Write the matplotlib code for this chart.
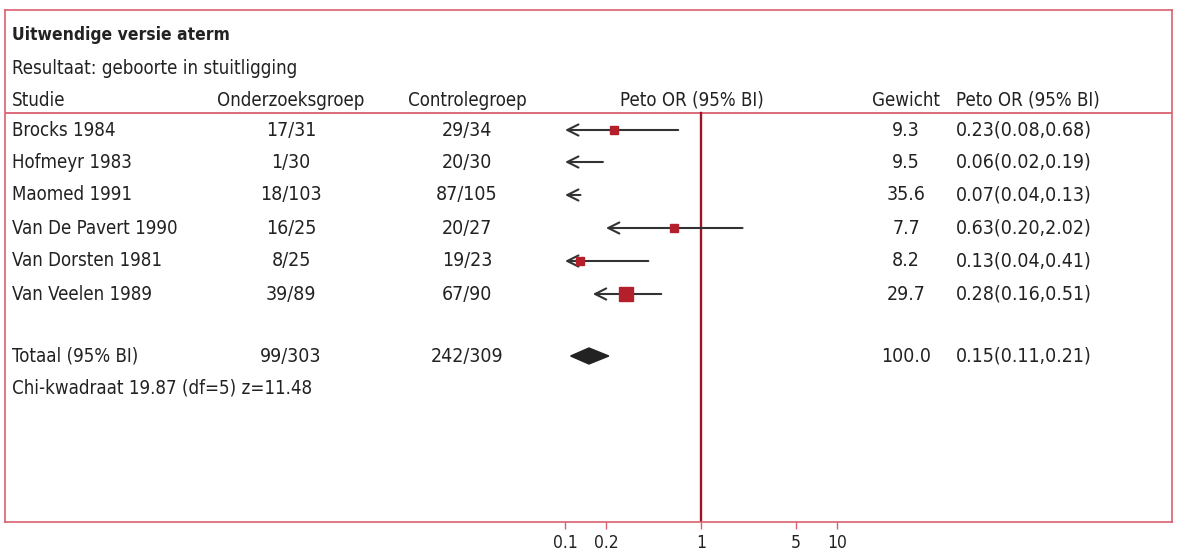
import numpy as np
import matplotlib
matplotlib.use("Agg")
import matplotlib.pyplot as plt
from matplotlib.transforms import blended_transform_factory

plt.rcParams['font.family'] = ['DejaVu Sans']
plt.rcParams['font.stretch'] = 'condensed'

# ---- data ----
studies = ["Brocks 1984", "Hofmeyr 1983", "Maomed 1991", "Van De Pavert 1990",
           "Van Dorsten 1981", "Van Veelen 1989"]
treat = ["17/31", "1/30", "18/103", "16/25", "8/25", "39/89"]
control = ["29/34", "20/30", "87/105", "20/27", "19/23", "67/90"]
odds = [0.23, 0.06, 0.07, 0.63, 0.13, 0.28]
ci_low = [0.08, 0.02, 0.04, 0.20, 0.04, 0.16]
ci_high = [0.68, 0.19, 0.13, 2.02, 0.41, 0.51]
weights = [9.3, 9.5, 35.6, 7.7, 8.2, 29.7]
total_label = "Totaal (95% BI)"
total_treat = "99/303"
total_control = "242/309"
total_or, total_lo, total_hi = 0.15, 0.11, 0.21
total_weight = 100.0
xticks = [0.1, 0.2, 1, 5, 10]
xticklabels = ["0.1", "0.2", "1", "5", "10"]

# ---- layout ----
W, H = 1178, 553
fig = plt.figure(figsize=(W / 100, H / 100), dpi=100)
left_px, right_px, top_px, bot_px = 5, 1172, 10, 522
ax = fig.add_axes([left_px / W, (H - bot_px) / H, (right_px - left_px) / W, (bot_px - top_px) / H])
ax.set_xscale('log')
px_per_dec = 136.0
x1_px = 701
ax.set_xlim(10 ** ((left_px - x1_px) / px_per_dec), 10 ** ((right_px - x1_px) / px_per_dec))
ax.set_ylim(bot_px, top_px)

pink = "#d9606e"
dark = "#222222"
sq = "#b3202c"

for s in ['left', 'right', 'top', 'bottom']:
    ax.spines[s].set_color(pink)
    ax.spines[s].set_linewidth(1.2)
ax.set_yticks([])
ax.set_xticks(xticks)
ax.set_xticklabels(xticklabels)
ax.minorticks_off()
ax.tick_params(axis='x', length=5, width=1, color=pink, labelsize=12.5, pad=4, labelcolor=dark)

row_y = [130, 162, 195, 228, 261, 294]
total_y = 356
fs = 13.4   # words
fn = 14     # numbers

tr = blended_transform_factory(fig.transFigure, ax.transData)
def fx(px):
    return px / W

# header
ax.text(fx(12), 35, "Uitwendige versie aterm", transform=tr, fontsize=12.5, fontweight='bold',
        va='center', ha='left', color=dark)
ax.text(fx(12), 68, "Resultaat: geboorte in stuitligging", transform=tr, fontsize=fs,
        va='center', ha='left', color=dark)
hy = 100
ax.text(fx(12), hy, "Studie", transform=tr, fontsize=fs, va='center', ha='left', color=dark)
ax.text(fx(291), hy, "Onderzoeksgroep", transform=tr, fontsize=fs, va='center', ha='center', color=dark)
ax.text(fx(467), hy, "Controlegroep", transform=tr, fontsize=fs, va='center', ha='center', color=dark)
ax.text(fx(692), hy, "Peto OR (95% BI)", transform=tr, fontsize=fs, va='center', ha='center', color=dark)
ax.text(fx(906), hy, "Gewicht", transform=tr, fontsize=fs, va='center', ha='center', color=dark)
ax.text(fx(956), hy, "Peto OR (95% BI)", transform=tr, fontsize=fs, va='center', ha='left', color=dark)
ax.plot([0, 1], [113, 113], transform=blended_transform_factory(ax.transAxes, ax.transData),
        color=pink, lw=1.3)

# reference line at 1
ax.plot([1, 1], [113, bot_px], color="#9e1424", lw=1.7)

clip_lo = 0.1
for i, y in enumerate(row_y):
    ax.text(fx(12), y, studies[i], transform=tr, fontsize=fs, va='center', ha='left', color=dark)
    ax.text(fx(291), y, treat[i], transform=tr, fontsize=fn, va='center', ha='center', color=dark)
    ax.text(fx(467), y, control[i], transform=tr, fontsize=fn, va='center', ha='center', color=dark)
    ax.text(fx(906), y, f"{weights[i]:.1f}", transform=tr, fontsize=fn, va='center', ha='center', color=dark)
    ax.text(fx(956), y, f"{odds[i]:.2f}({ci_low[i]:.2f},{ci_high[i]:.2f})", transform=tr,
            fontsize=fn, va='center', ha='left', color=dark)
    lo = max(ci_low[i], clip_lo)
    ax.annotate('', xy=(lo, y), xytext=(ci_high[i], y),
                arrowprops=dict(arrowstyle='->,head_length=0.8,head_width=0.4',
                                color="#333333", lw=1.5, shrinkA=0, shrinkB=0))
    if odds[i] >= clip_lo:
        ms = 1.9 * np.sqrt(weights[i])
        ax.plot([odds[i]], [y], marker='s', ms=ms, color=sq, mec=sq, zorder=5)

# total
ax.text(fx(12), total_y, total_label, transform=tr, fontsize=fs, va='center', ha='left', color=dark)
ax.text(fx(291), total_y, total_treat, transform=tr, fontsize=fn, va='center', ha='center', color=dark)
ax.text(fx(467), total_y, total_control, transform=tr, fontsize=fn, va='center', ha='center', color=dark)
ax.text(fx(906), total_y, f"{total_weight:.1f}", transform=tr, fontsize=fn, va='center', ha='center', color=dark)
ax.text(fx(956), total_y, f"{total_or:.2f}({total_lo:.2f},{total_hi:.2f})", transform=tr,
        fontsize=fn, va='center', ha='left', color=dark)
ax.fill([total_lo, total_or, total_hi, total_or], [total_y, total_y - 8, total_y, total_y + 8],
        color="#222222", zorder=5)

ax.text(fx(12), 388, "Chi-kwadraat 19.87 (df=5) z=11.48", transform=tr, fontsize=fs,
        va='center', ha='left', color=dark)

fig.savefig("out.png", dpi=100, facecolor='white')
